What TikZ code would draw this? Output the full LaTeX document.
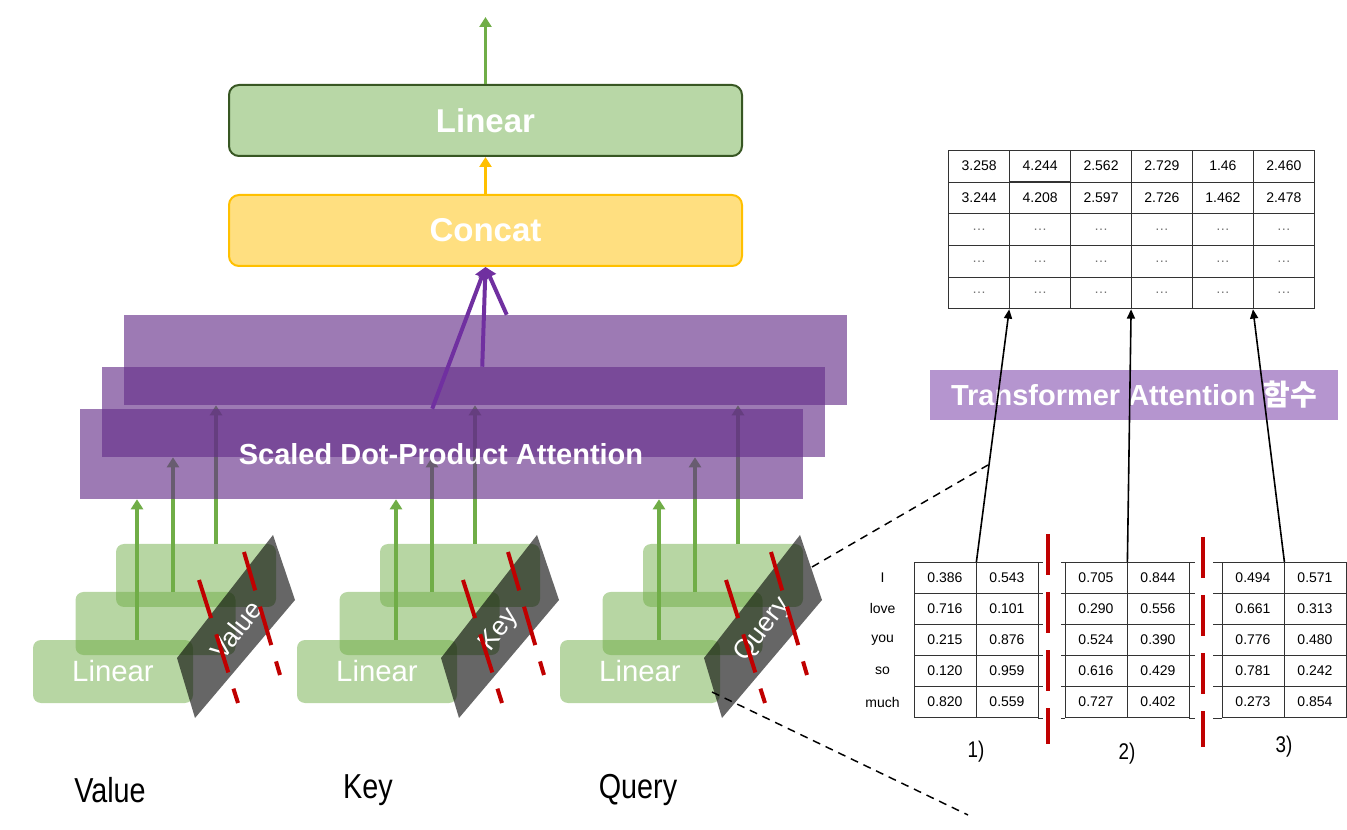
\documentclass[tikz,border=0pt]{standalone}
\usepackage{fontspec}
\usepackage{graphicx}
\setmainfont{Liberation Sans}
\newfontfamily\krfont{Noto Sans CJK KR}
\usetikzlibrary{arrows.meta,matrix}

\pgfdeclarelayer{back}
\pgfsetlayers{back,main}

\definecolor{lingreen}{HTML}{70AD47}
\definecolor{linfill}{HTML}{B8D7A6}
\definecolor{lindraw}{HTML}{385723}
\definecolor{catfill}{HTML}{FFDF80}
\definecolor{catdraw}{HTML}{FFC000}
\definecolor{attpurple}{RGB}{100,45,137}
\definecolor{arrpurple}{HTML}{7030A0}
\definecolor{labpurple}{RGB}{181,149,207}
\definecolor{cutred}{HTML}{C00000}

\newcommand\sz[1]{\fontsize{#1}{#1}\selectfont}
\newcommand\narrow[1]{\scalebox{0.83}[1]{#1}}
\newcommand\dd{{\color{black!55}…}}

\tikzset{
  topbox/.style={rounded corners=7.5pt, line width=1.5pt, minimum width=384.75pt, minimum height=53.25pt, text=white, font=\sz{24.75}\bfseries},
  sdpa/.style={fill=attpurple, fill opacity=0.63, text opacity=1, minimum width=542.25pt, minimum height=67.5pt, text=white, font=\sz{21.75}\bfseries},
  linbox/.style={fill=lingreen, fill opacity=0.5, text opacity=1, rounded corners=6pt, minimum width=120pt, minimum height=47.25pt, text=white, font=\sz{22}},
  cutface/.style={fill=black, fill opacity=0.6},
  cutlabel/.style={text=white, rotate=52, font=\sz{20}},
  cutline/.style={draw=cutred, line width=3pt, dash pattern=on 30pt off 12.75pt},
  garrow/.style={draw=lingreen, line width=2.4pt, -{Triangle[width=9pt,length=7.5pt]}},
  yarrow/.style={draw=catdraw, line width=2.4pt, -{Triangle[width=9pt,length=7.5pt]}},
  parrow/.style={draw=arrpurple, line width=3pt, -{Triangle[width=10pt,length=8pt]}},
  barrow/.style={draw=black, line width=1.2pt, -{Triangle[width=6pt,length=7pt]}},
  zoomline/.style={draw=black, line width=1.1pt, dash pattern=on 6pt off 4.5pt},
  cell/.style={draw=black!80, line width=0.6pt, inner sep=0pt, font=\sz{10.5}},
  cellline/.style={draw=black!80, line width=0.6pt},
  split/.style={matrix of nodes, nodes={cell, minimum width=46.5pt, minimum height=23.3pt}, column sep=-0.6pt, row sep=-0.6pt},
  tflabel/.style={fill=labpurple, minimum width=306pt, minimum height=37.5pt, text=white, font=\sz{21.75}\bfseries},
  inlabel/.style={font=\sz{26}},
  numlabel/.style={font=\sz{17}},
}

\begin{document}
\begin{tikzpicture}[x=0.75pt, y=-0.75pt]
  \useasboundingbox (0,0) rectangle (1347,830);

  % Output
  \node[topbox, fill=linfill, draw=lindraw] (lin) at (485.5,120.5) {Linear};
  \node[topbox, fill=catfill, draw=catdraw] (cat) at (485.5,230.5) {Concat};
  \coordinate (out) at (485.5,17);
  \draw[garrow] (lin.north) -- (out);
  \draw[yarrow] (cat.north) -- (lin.south);

  % Heads
  \node[sdpa] (sdpa3) at (485.5,360) {};
  \node[sdpa] (sdpa2) at (463,412) {};
  \node[sdpa] (sdpa1) at (441,454) {Scaled Dot-Product Attention};
  \draw[parrow] ([xshift=264.75pt]sdpa1.north west) -- (cat.south);
  \draw[parrow] ([xshift=285.75pt]sdpa2.north west) -- (cat.south);
  \draw[parrow] ([xshift=287.25pt]sdpa3.north west) -- (cat.south);

  % Linear projections
  \foreach \g/\nm/\lx in {0/Value/110, 264/Key/368, 527/Query/638} {
    \node[linbox] (b\nm) at (196+\g,575.5) {};
    \node[linbox] (m\nm) at (155.5+\g,623.5) {};
    \node[linbox] (f\nm) at (113+\g,671.5) {Linear};
    \fill[cutface] (177+\g,658) -- (273+\g,535) -- (295+\g,600) -- (195+\g,718) -- cycle;
    \node[cutlabel] (c\nm) at (236+\g,630) {\nm};
    \draw[cutline] (199+\g,580) -- (238+\g,703);
    \draw[cutline] (244+\g,552) -- (280+\g,675);
    \node[inlabel] (in\nm) at (\lx,790) {\narrow{\nm}};
  }
  \begin{pgfonlayer}{back}
    \foreach \a/\nm in {0/Value, 259/Key, 522/Query} {
      \foreach \x/\src/\dst in {137/f/1, 173/m/2, 216/b/3} {
        \coordinate (ga) at (\x+\a,0);
        \draw[garrow] (ga |- \src\nm.north) -- (ga |- sdpa\dst.south);
      }
    }
  \end{pgfonlayer}

  % Result
  \matrix (res) [matrix of nodes, nodes={cell, minimum width=45.7pt, minimum height=23.8pt}, column sep=-0.6pt, row sep=-0.6pt] at (1131.5,229.5) {
    3.258 & 4.244 & 2.562 & 2.729 & 1.46 & 2.460 \\
    3.244 & 4.208 & 2.597 & 2.726 & 1.462 & 2.478 \\
    \dd & \dd & \dd & \dd & \dd & \dd \\
    \dd & \dd & \dd & \dd & \dd & \dd \\
    \dd & \dd & \dd & \dd & \dd & \dd \\
  };

  % Split heads
  \matrix (t1) [split] at (976,640) {
    0.386 & 0.543 \\
    0.716 & 0.101 \\
    0.215 & 0.876 \\
    0.120 & 0.959 \\
    0.820 & 0.559 \\
  };
  \matrix (t2) [split] at (1127,640) {
    0.705 & 0.844 \\
    0.290 & 0.556 \\
    0.524 & 0.390 \\
    0.616 & 0.429 \\
    0.727 & 0.402 \\
  };
  \matrix (t3) [split] at (1284,640) {
    0.494 & 0.571 \\
    0.661 & 0.313 \\
    0.776 & 0.480 \\
    0.781 & 0.242 \\
    0.273 & 0.854 \\
  };
  \foreach \k in {1,...,5} {
    \draw[cellline] (t1-\k-2.north east) -- ++(5,0);
    \draw[cellline] (t2-\k-1.north west) -- ++(-4,0);
    \draw[cellline] (t2-\k-2.north east) -- ++(6,0);
    \draw[cellline] (t3-\k-1.north west) -- ++(-9,0);
  }
  \draw[cellline] (t1-5-2.south east) -- ++(5,0);
  \draw[cellline] (t2-5-1.south west) -- ++(-4,0);
  \draw[cellline] (t2-5-2.south east) -- ++(6,0);
  \draw[cellline] (t3-5-1.south west) -- ++(-9,0);
  \foreach \w [count=\i] in {I,love,you,so,much}
    \node[font=\sz{10.5}] (w\i) at ([xshift=-23.25pt]t1-\i-1.west) {\w};
  \node[numlabel] (n1) at ([yshift=-22pt]t1.south) {\narrow{1)}};
  \node[numlabel] (n2) at ([yshift=-23pt]t2.south) {\narrow{2)}};
  \node[numlabel] (n3) at ([yshift=-18pt]t3.south) {\narrow{3)}};
  \draw[cutline, dash pattern=on 30.75pt off 12.75pt] (1048,534) -- (1048,744);
  \draw[cutline, dash pattern=on 30.75pt off 12.75pt] (1203,537) -- (1203,747);

  % Attention
  \node[tflabel] (tf) at (1134,395) {Transformer Attention {\krfont 함수}};
  \draw[barrow] (t1-1-1.north east) -- (res-5-2.south west);
  \draw[barrow] (t2-1-1.north east) -- (res-5-4.south west);
  \draw[barrow] (t3-1-1.north east) -- (res-5-6.south west);

  % Zoom
  \coordinate (zq1) at (812,567);
  \coordinate (zq2) at (988,465);
  \coordinate (zq3) at (712,692);
  \coordinate (zq4) at (968,815);
  \draw[zoomline] (zq1) -- (zq2);
  \draw[zoomline] (zq3) -- (zq4);
\end{tikzpicture}
\end{document}
